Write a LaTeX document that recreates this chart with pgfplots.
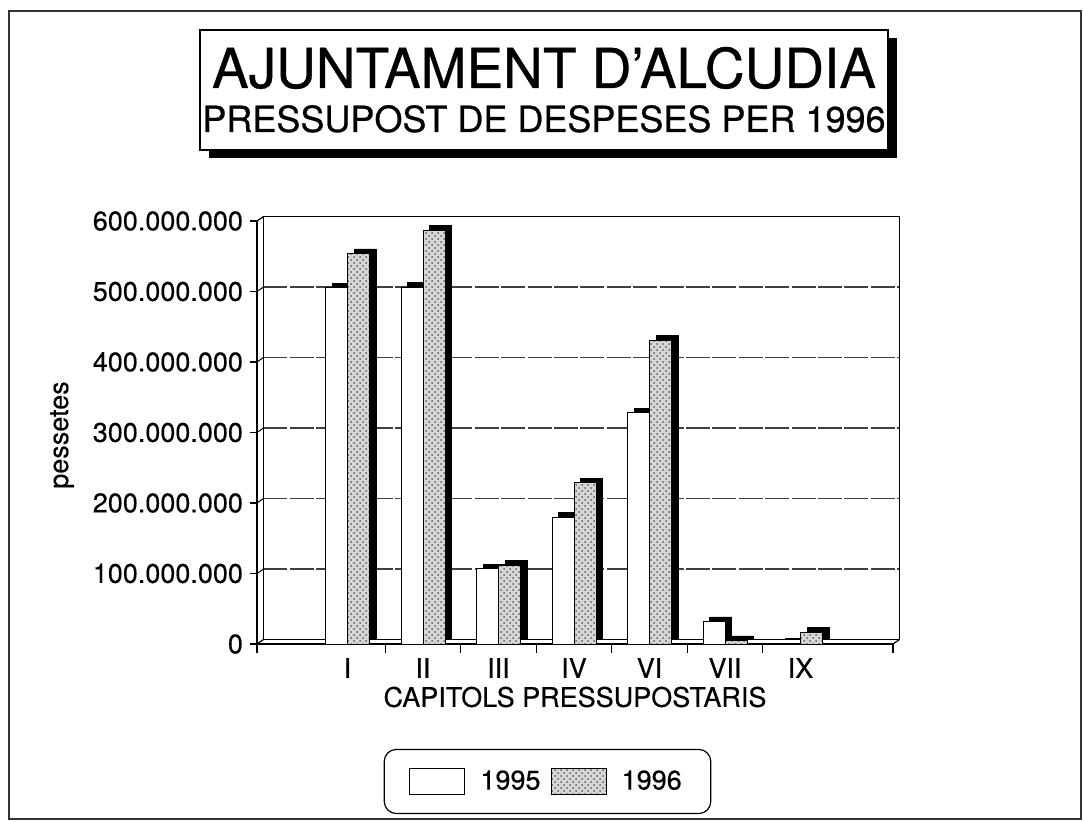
\documentclass[border=0pt]{standalone}
\usepackage{fontspec}
\setmainfont{TeX Gyre Heros}[FakeBold=0.3]
\newfontfamily\titlefont{TeX Gyre Heros}[FakeBold=0.6]
\usepackage{pgfplots}
\usepackage{pgfplotstable}
\pgfplotsset{compat=1.18}
\usetikzlibrary{patterns}
\pgfplotstableread{
cat v1995 v1996
1 505000000 554000000
2 506000000 587000000
3 107000000 112000000
4 180000000 229000000
5 328000000 431000000
6 32000000 5000000
7 1000000 17000000
}\data
\newcommand\gl[1]{%
  \draw[black,line width=0.5pt] (rel axis cs:0,#1) -- ([bk]rel axis cs:0,#1);
  \draw[gridc] ([bk]rel axis cs:0,#1) -- ([bk]rel axis cs:1,#1);}
\begin{document}
\begin{tikzpicture}[gridc/.style={gray!50!black,line width=0.6pt,dash pattern=on 12pt off 1.2pt},
  bk/.style={shift={(3.25pt,2.25pt)}}]
\useasboundingbox (0,0) rectangle (541.5pt,410.5pt);
\draw[line width=1pt, gray!40!black] (4.5pt,1pt) rectangle (540.5pt,405pt);
% title box
\fill[black] (104.5pt,331.5pt) rectangle (448.5pt,391.5pt);
\draw[fill=white, line width=0.6pt] (100pt,335.5pt) rectangle (444pt,395.5pt);
\node[anchor=base, inner sep=0pt, font=\titlefont\fontsize{27.5}{30}\selectfont] at (272pt,366.5pt) {AJUNTAMENT D’ALCUDIA};
\node[anchor=base, inner sep=0pt, font=\titlefont\fontsize{18}{20}\selectfont] at (272pt,344.5pt) {PRESSUPOST DE DESPESES PER 1996};
\begin{axis}[
  at={(128.5pt,88.5pt)}, anchor=south west,
  scale only axis, width=318pt, height=211.5pt,
  xmin=-0.199, xmax=8.225, ymin=0, ymax=600000000,
  ybar, bar width=11pt,
  axis x line*=bottom, axis y line*=left,
  axis line style={-, line width=0.6pt},
  xtick={1,2,3,4,5,6,7}, xticklabels={I,II,III,IV,VI,VII,IX},
  minor xtick={-0.199,1.5,2.5,3.5,4.5,5.5,6.5,8.225},
  major x tick style={draw=none},
  minor x tick style={black,line width=0.6pt},
  minor tick length=4.5pt, major tick length=3.5pt, tick align=outside,
  ytick={0,100000000,200000000,300000000,400000000,500000000,600000000},
  yticklabels={0,100.000.000,200.000.000,300.000.000,400.000.000,500.000.000,600.000.000},
  major y tick style={black, line width=0.6pt},
  tick label style={font=\fontsize{13.5}{16}\selectfont},
  scaled y ticks=false,
  clip=false,
  ylabel={pessetes},
  ylabel style={at={(axis description cs:-0.3066,0.4941)}, anchor=center, font=\fontsize{13.5}{16}\selectfont},
  xlabel={CAPITOLS PRESSUPOSTARIS},
  xlabel style={at={(axis description cs:0.5,-0.1253)}, anchor=center, font=\fontsize{13.5}{16}\selectfont},
  legend columns=2,
  legend style={at={(axis description cs:0.4568,-0.325)}, anchor=center,
    draw=black, line width=0.6pt, rounded corners=6pt,
    inner xsep=12.5pt, inner ysep=8.5pt,
    font=\fontsize{13.5}{16}\selectfont,
    /tikz/every odd column/.append style={column sep=5.5pt},
    /tikz/every even column/.append style={column sep=3pt}},
  legend image code/.code={\draw[#1, sharp corners, line width=0.6pt] (0pt,-6.5pt) rectangle (27.5pt,6.5pt);},
]
% back wall and floor
\gl{0.16667}\gl{0.33333}\gl{0.5}\gl{0.66667}\gl{0.83333}
\draw[black,line width=0.6pt] ([bk]rel axis cs:0,0) -- ([bk]rel axis cs:0,1) -- ([bk]rel axis cs:1,1) -- ([bk]rel axis cs:1,0) -- ([bk]rel axis cs:0,0);
\draw[black,line width=0.6pt] (rel axis cs:0,1) -- ([bk]rel axis cs:0,1);
\draw[black,line width=0.6pt] (rel axis cs:0,0) -- ([bk]rel axis cs:0,0);
\draw[black,line width=0.6pt] (rel axis cs:1,0) -- ([bk]rel axis cs:1,0);
% bars
\addplot[forget plot, fill=black, draw=black, bar shift=-2.25pt, yshift=2.25pt] table[x=cat,y=v1995]{\data};
\addplot[fill=white, draw=black, line width=0.5pt, bar shift=-5.5pt] table[x=cat,y=v1995]{\data};
\addplot[forget plot, fill=black, draw=black, bar shift=8.75pt, yshift=2.25pt] table[x=cat,y=v1996]{\data};
\addplot[fill=gray!32, postaction={pattern=crosshatch dots, pattern color=gray!75!black}, draw=black, line width=0.5pt, bar shift=5.5pt] table[x=cat,y=v1996]{\data};
\legend{1995,1996}
\end{axis}
\end{tikzpicture}
\end{document}
